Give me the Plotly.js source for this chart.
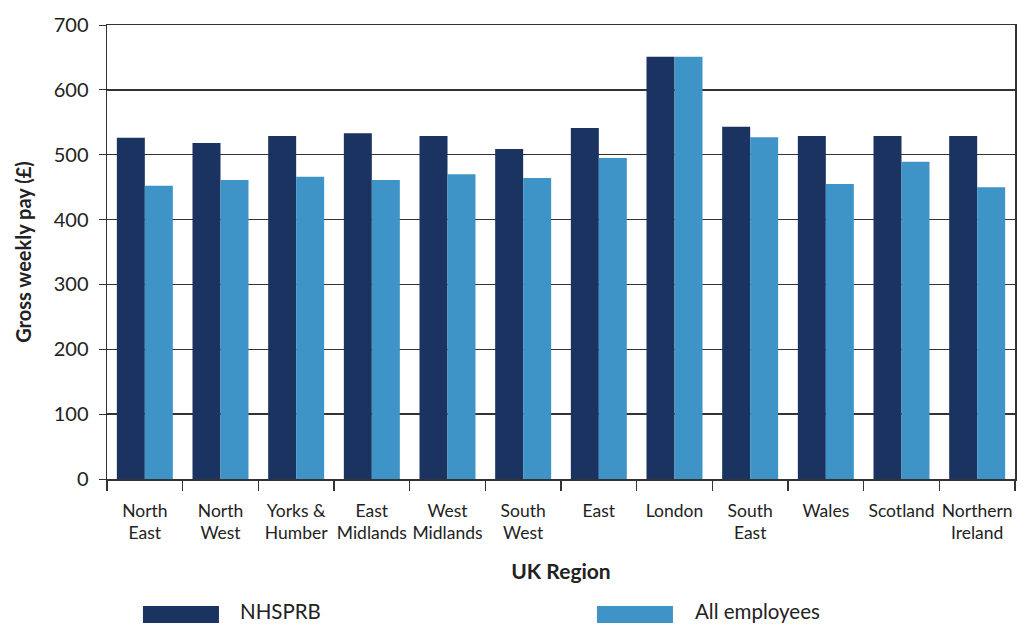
<!DOCTYPE html>
<html><head><meta charset="utf-8">
<script src="https://cdn.plot.ly/plotly-3.0.1.min.js"></script>
<style>html,body{margin:0;padding:0;background:#fff}#chart{width:1018px;height:625px}</style>
</head><body><div id="chart"></div>
<script>
var regions = ["North<br>East","North<br>West","Yorks &<br>Humber","East<br>Midlands","West<br>Midlands","South<br>West","East","London","South<br>East","Wales","Scotland","Northern<br>Ireland"];
var nhsprb = [526, 518, 529, 533, 529, 509, 541, 651, 543, 529, 529, 529];
var allEmployees = [452, 461, 466, 461, 470, 464, 495, 651, 527, 455, 489, 450];
var seriesNames = ["NHSPRB", "All employees"];
var seriesColors = ["#1b3360", "#3e94c6"];
var yTicks = [0,100,200,300,400,500,600,700];

var font = "Lato, 'Open Sans', sans-serif";
var traces = [nhsprb, allEmployees].map(function(v, i){
  return {type:"bar", x: regions, y: v, name: seriesNames[i], marker:{color: seriesColors[i]}, showlegend:false};
});

var shapes = [], annotations = [];
var swatchX = [0.0396, 0.5396];
var textX = [0.1465, 0.6476];
seriesNames.forEach(function(n, i){
  shapes.push({type:"rect", xref:"paper", yref:"paper", x0:swatchX[i], x1:swatchX[i]+0.0837, y0:-0.317, y1:-0.2797, fillcolor:seriesColors[i], line:{width:0}});
  annotations.push({xref:"paper", yref:"paper", x:textX[i], y:-0.291, xanchor:"left", yanchor:"middle", xshift:-2, text:n, showarrow:false, font:{family:font, size:20.5, color:"#222"}});
});

var layout = {
  width:1018, height:625,
  margin:{l:107, r:3, t:25, b:146},
  paper_bgcolor:"#fff", plot_bgcolor:"#fff",
  barmode:"group", bargap:0.26, bargroupgap:0,
  font:{family:font, color:"#222"},
  xaxis:{
    type:"category", tickson:"boundaries", ticks:"outside", ticklen:10, tickcolor:"#333", tickwidth:1.2,
    showline:true, linecolor:"#333", linewidth:1.5, mirror:true, tickangle:0,
    tickfont:{family:font, size:17.5, color:"#222"}, ticklabelstandoff:15,
    title:{text:"<b>UK Region</b>", font:{family:font, size:21, color:"#222"}, standoff:22}
  },
  yaxis:{
    range:[0,700], tickvals:yTicks, ticks:"outside", ticklen:7, tickcolor:"#333",
    showline:true, linecolor:"#333", linewidth:1.5, mirror:true,
    showgrid:true, gridcolor:"#333", gridwidth:1.3, zeroline:false,
    tickfont:{family:font, size:20, color:"#222"}, ticklabelstandoff:6,
    title:{text:"<b>Gross weekly pay (£)</b>", font:{family:font, size:20, color:"#222"}, standoff:16}
  },
  shapes:shapes, annotations:annotations
};
Plotly.newPlot("chart", traces, layout, {displayModeBar:false, staticPlot:true});
</script></body></html>
